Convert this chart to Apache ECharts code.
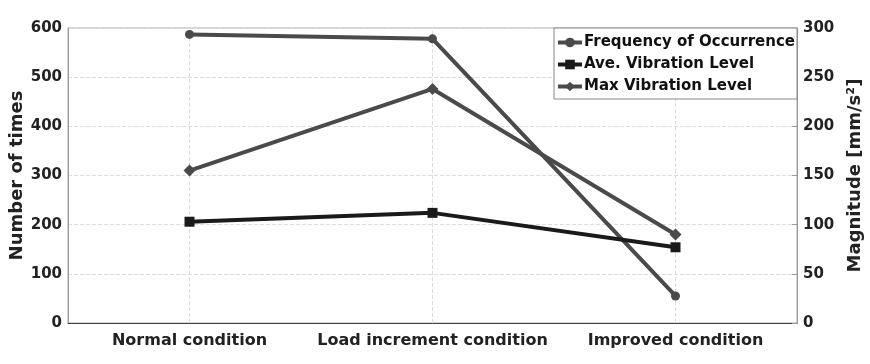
<!DOCTYPE html>
<html><head><meta charset="utf-8">
<script src="https://cdn.jsdelivr.net/npm/echarts@6/dist/echarts.min.js"></script>
<style>html,body{margin:0;padding:0;background:#fff}#c{width:870px;height:364px}</style>
</head><body><div id="c"></div>
<script>
const categories = ["Normal condition", "Load increment condition", "Improved condition"];
const frequency = [587, 578, 55];
const aveVibration = [103, 112, 77];
const maxVibration = [155, 238, 90];
const leftTicks = [0, 600, 100];
const rightTicks = [0, 300, 50];

const chart = echarts.init(document.getElementById('c'));
const font = 'DejaVu Sans, sans-serif';
const axisLab = {color:'#222', fontWeight:'bold', fontSize:15, fontFamily:font};
chart.setOption({
  animation:false,
  grid:{left:68, right:73, top:28, bottom:41, show:true, borderColor:'#aaa', borderWidth:1,
        containLabel:false, outerBoundsMode:'none'},
  legend:{
    orient:'vertical', right:73, top:28, itemGap:7, itemWidth:24, itemHeight:12,
    backgroundColor:'#fff', borderColor:'#888', borderWidth:1, padding:[7,2,5,2],
    lineStyle:{width:4},
    textStyle:{color:'#111', fontWeight:'bold', fontSize:15, fontFamily:font, padding:[0,0,0,-3]}
  },
  xAxis:{type:'category', data:categories, boundaryGap:true,
    axisLine:{lineStyle:{color:'#444', width:1}}, axisTick:{show:false},
    axisLabel:Object.assign({margin:10, interval:0}, axisLab, {fontSize:16}),
    splitLine:{show:false}
  },
  yAxis:[
    {type:'value', min:leftTicks[0], max:leftTicks[1], interval:leftTicks[2],
     name:'Number of times', nameLocation:'middle', nameGap:42, nameMoveOverlap:false,
     nameTextStyle:{color:'#222', fontWeight:'bold', fontSize:18, fontFamily:font},
     axisLine:{show:true, lineStyle:{color:'#999'}}, axisTick:{show:false},
     axisLabel:Object.assign({margin:6}, axisLab),
     splitLine:{show:true, lineStyle:{color:'#ddd', type:'dashed'}}},
    {type:'value', min:rightTicks[0], max:rightTicks[1], interval:rightTicks[2], position:'right',
     name:'Magnitude [mm/s²]', nameLocation:'middle', nameGap:49, nameMoveOverlap:false,
     nameTextStyle:{color:'#222', fontWeight:'bold', fontSize:18, fontFamily:font},
     axisLine:{show:true, lineStyle:{color:'#999'}}, axisTick:{show:true, inside:true, length:5, lineStyle:{color:'#999'}},
     axisLabel:Object.assign({margin:6}, axisLab), splitLine:{show:false}}
  ],
  series:[
    {name:'Frequency of Occurrence', type:'line', yAxisIndex:0, data:frequency, z:3,
     symbol:'circle', symbolSize:9, lineStyle:{color:'#4a4a4a', width:4}, itemStyle:{color:'#4a4a4a'},
     markLine:{silent:true, symbol:'none', label:{show:false}, z:1,
       lineStyle:{color:'#ddd', type:'dashed', width:1},
       data:categories.map(c => ({xAxis:c}))}},
    {name:'Ave. Vibration Level', type:'line', yAxisIndex:1, data:aveVibration, z:3,
     symbol:'rect', symbolSize:10, lineStyle:{color:'#1a1a1a', width:4}, itemStyle:{color:'#1a1a1a'}},
    {name:'Max Vibration Level', type:'line', yAxisIndex:1, data:maxVibration, z:3,
     symbol:'diamond', symbolSize:12, lineStyle:{color:'#4a4a4a', width:4}, itemStyle:{color:'#4a4a4a'}}
  ]
});
</script></body></html>
